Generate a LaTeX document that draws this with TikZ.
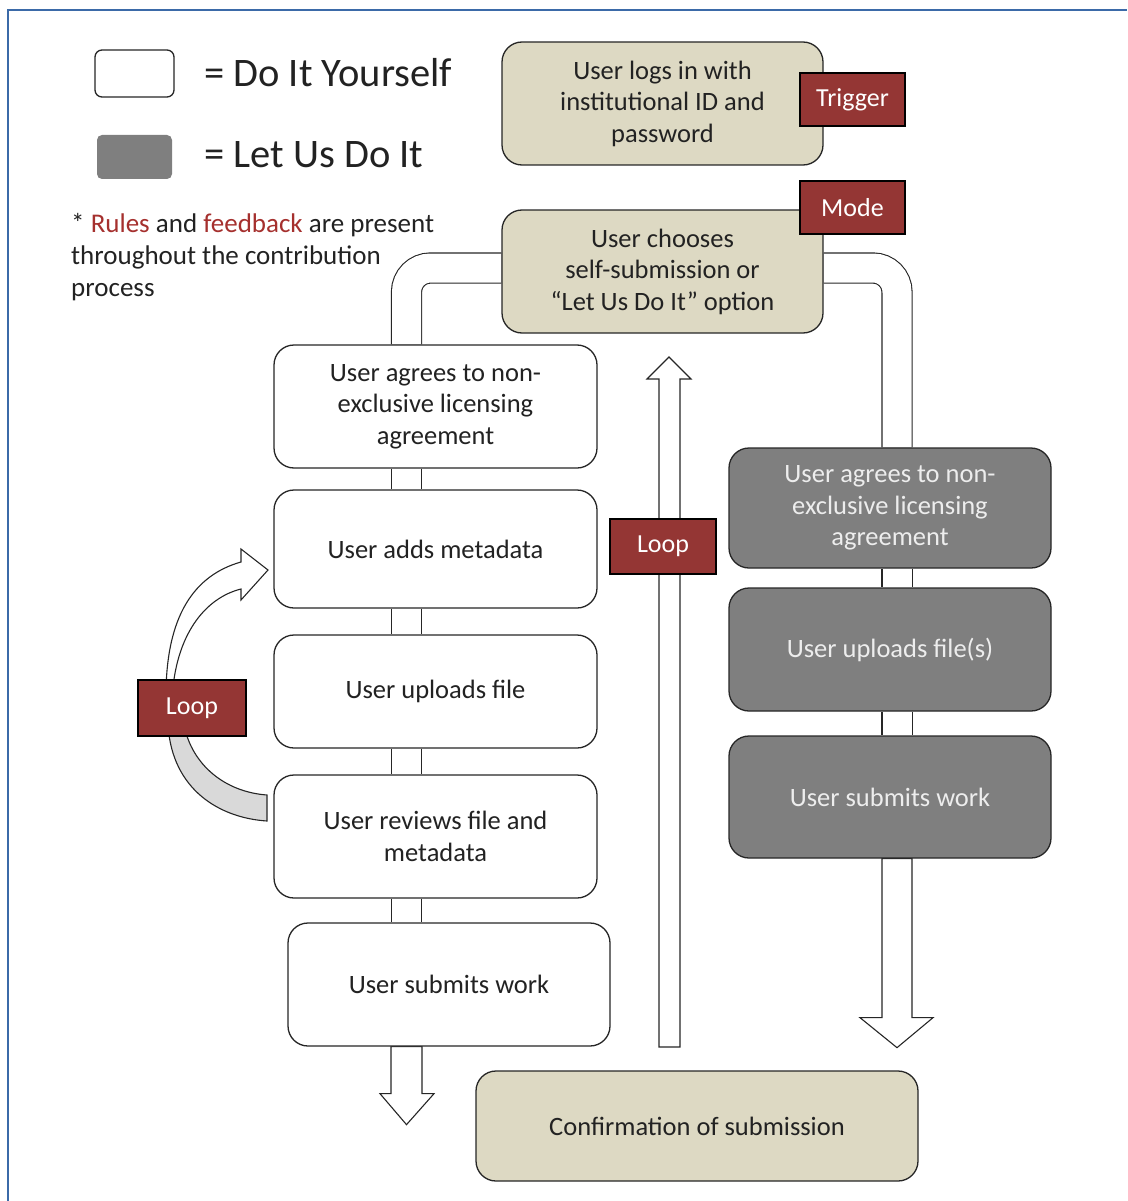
\documentclass[tikz,border=0pt]{standalone}
\usepackage{fontspec}
\setmainfont{Carlito}
\usetikzlibrary{calc}
\definecolor{beige}{HTML}{DDD9C3}
\definecolor{tagred}{HTML}{943634}
\definecolor{dgrey}{HTML}{7F7F7F}
\definecolor{lgrey}{HTML}{D9D9D9}
\definecolor{frameblue}{HTML}{3B6AA8}
\definecolor{notered}{HTML}{A5302E}
\definecolor{txt}{HTML}{222222}
\pgfdeclarelayer{bg}\pgfsetlayers{bg,main}
\begin{document}
\begin{tikzpicture}[x=1pt,y=-1pt,
 box/.style={draw=black!85, line width=1.3pt, rounded corners=20pt, align=center,
   font=\fontsize{26.5}{31.5}\selectfont, text=txt, inner sep=0pt, minimum width=323pt},
 diy/.style={box, fill=white},
 lud/.style={box, fill=dgrey, text=white!93!black},
 sys/.style={box, fill=beige},
 tag/.style={draw=black, line width=1.3pt, fill=tagred, text=white,
   font=\fontsize{26}{31}\selectfont, minimum width=105pt, minimum height=53pt, inner sep=0pt},
 pipe/.style={draw=black!85, line width=1.1pt, double=white, double distance=29pt},
 barrow/.style={draw=black!85, line width=1.1pt, fill=white, line join=miter},
 legtext/.style={font=\fontsize{40.5}{46}\selectfont, text=txt, anchor=west, inner sep=0pt},
]
\useasboundingbox (0,0) rectangle (1127,1201);
% frame
\draw[frameblue, line width=2.2pt] (8,1201) -- (8,10) -- (1127,10);

% legend
\node[draw=black!85, line width=1.3pt, rounded corners=7pt, fill=white, minimum width=79pt, minimum height=47pt, inner sep=0pt] (legdiy) at (134.5,73.5) {};
\node[fill=dgrey, rounded corners=5pt, minimum width=75pt, minimum height=44pt, inner sep=0pt] (leglud) at (134.5,157) {};
\node[legtext] (legdiyt) at (204,73) {= Do It Yourself};
\node[legtext] (legludt) at (204,155) {= Let Us Do It};
\node[anchor=west, align=left, inner sep=0pt, text=txt, font=\fontsize{27}{32}\selectfont] (note) at (71,257)
 {* \textcolor{notered}{Rules} and \textcolor{notered}{feedback} are present\\throughout the contribution\\process};

% system boxes
\node[sys, minimum width=321pt, minimum height=123pt] (T) at (662.5,103.5) {User logs in with\\institutional ID and\\password};
\node[sys, minimum width=321pt, minimum height=123pt] (M) at (662.5,271.5) {User chooses\\self-submission or\\“Let Us Do It” option};
\node[sys, minimum width=442pt, minimum height=110pt] (C) at (697,1126) {Confirmation of submission};

% tags
\node[tag] (tagT) at (852.5,99.5) {\raisebox{-2pt}{Trigger}};
\node[tag] (tagM) at (852.5,207.5) {Mode};

% do it yourself column
\node[diy, minimum height=123pt] (A1) at (435.5,406.5) {User agrees to non-\\exclusive licensing\\agreement};
\node[diy, minimum height=118pt] (A2) at (435.5,549) {User adds metadata};
\node[diy, minimum height=113pt] (A3) at (435.5,691.5) {User uploads file};
\node[diy, minimum height=123pt] (A4) at (435.5,836.5) {User reviews file and\\metadata};
\node[diy, minimum width=322pt, minimum height=123pt] (A5) at (449,984.5) {User submits work};

% let us do it column
\node[lud, minimum width=322pt, minimum height=120pt] (B1) at (890,508) {User agrees to non-\\exclusive licensing\\agreement};
\node[lud, minimum width=322pt, minimum height=123pt] (B2) at (890,649.5) {User uploads file(s)};
\node[lud, minimum width=322pt, minimum height=122pt] (B3) at (890,797) {User submits work};

% loop tags
\node[tag, minimum width=106pt, minimum height=55pt] (loopM) at (663,546.5) {Loop};
\node[tag, minimum width=108pt, minimum height=56pt] (loopL) at (192,708) {Loop};

\coordinate (pl) at (406.5,268);
\coordinate (pr) at (897,268);

\begin{pgfonlayer}{bg}
% pipes
\draw[pipe, rounded corners=24pt] (M.west |- pl) -| (A1.north -| pl);
\draw[pipe, rounded corners=24pt] (M.east |- pr) -| (B1.north -| pr);
\draw[pipe] (A1.south -| pl) -- (A2.north -| pl);
\draw[pipe] (A2.south -| pl) -- (A3.north -| pl);
\draw[pipe] (A3.south -| pl) -- (A4.north -| pl);
\draw[pipe] (A4.south -| pl) -- (A5.north -| pl);
\draw[pipe] (B1.south -| pr) -- (B2.north -| pr);
\draw[pipe] (B2.south -| pr) -- (B3.north -| pr);

% down arrow from B3
\draw[barrow] ([xshift=-15pt]B3.south -| pr) -- ++(0,159) -- ++(-22,0) -- ++(37,30)
  -- ++(36,-30) -- ++(-21,0) -- ([xshift=15pt]B3.south -| pr) -- cycle;
% down arrow from A5
\draw[barrow] ([xshift=-15.5pt]A5.south -| pl) -- ++(0,47) -- ++(-11,0) -- ++(26.5,31)
  -- ++(27.5,-31) -- ++(-12,0) -- ([xshift=15.5pt]A5.south -| pl) -- cycle;
% loop up arrow (middle)
\coordinate (upb) at (669.5,1047);
\draw[barrow] ([xshift=-10.5pt]upb) -- ++(0,-668) -- ++(-12,0) -- ++(22,-22)
  -- ++(22,22) -- ++(-11,0) -- ([xshift=10.5pt]upb) -- cycle;

% left loop: upper white curved arrow
\draw[barrow, line join=miter] (166,700) .. controls (165,615) and (195,575) .. (241,562)
  -- (241,549) -- (268,570) -- (241,600) -- (241,589)
  .. controls (205,598) and (175,635) .. (172,700) -- cycle;
% left loop: lower grey curved band
\draw[draw=black!85, line width=1.1pt, fill=lgrey] (168,725) .. controls (172,790) and (220,818) .. (267,821)
  -- (267,795) .. controls (225,792) and (192,765) .. (184,725) -- cycle;
\end{pgfonlayer}
\end{tikzpicture}
\end{document}
